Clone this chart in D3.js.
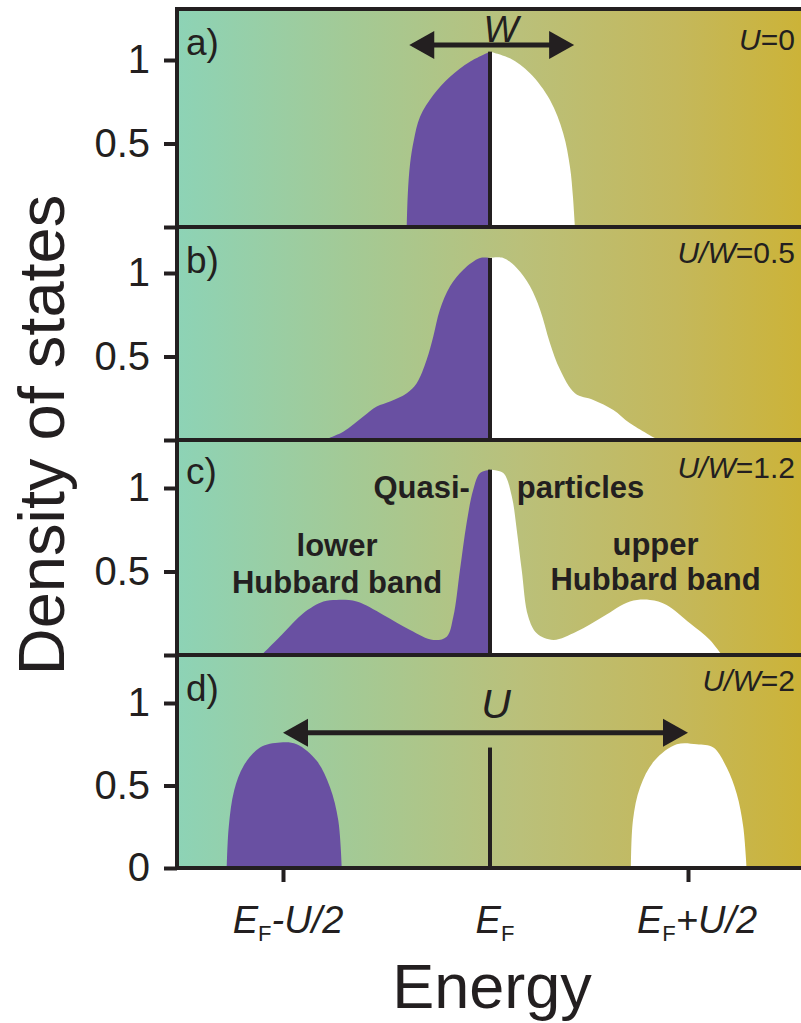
<!DOCTYPE html>
<html><head><meta charset="utf-8">
<script src="https://cdn.jsdelivr.net/npm/d3@7"></script>
<style>
body{margin:0;background:#fff}
svg{display:block}
text{font-family:"Liberation Sans",Arial,Helvetica,sans-serif;fill:#231f20}
</style>
</head><body>
<svg id="chart" width="801" height="1023"></svg>
<script>
// ---------------- DATA ----------------
const panelLetters = ["a)", "b)", "c)", "d)"];
const panelTitles = [
  [["U", true], ["=0", false]],
  [["U/W", true], ["=0.5", false]],
  [["U/W", true], ["=1.2", false]],
  [["U/W", true], ["=2", false]]
];
const yTickValues = [0, 0.5, 1];
const xTickValues = [-1, 1];
const xTickLabels = [
  [["E", "i"], ["F", "s"], ["-U/2", "i"]],
  [["E", "i"], ["F", "s"], ["+U/2", "i"]]
];
const efLabel = [["E", "i"], ["F", "s"]];

// energy (E - E_F, units of U/2 for U/W=2), density of states
const dosA_occupied = [[-0.402,0],[-0.397,0.20],[-0.386,0.38],[-0.368,0.52],[-0.338,0.66],[-0.274,0.79],[-0.193,0.90],[-0.097,0.99],[0,1.05]];
const dosA_empty    = [[0,1.05],[0.101,1.01],[0.202,0.92],[0.303,0.76],[0.370,0.56],[0.404,0.36],[0.419,0.18],[0.429,0]];

const dosB_occupied = [[-0.805,0],[-0.709,0.05],[-0.612,0.14],[-0.547,0.20],[-0.483,0.23],[-0.402,0.28],[-0.354,0.34],[-0.306,0.48],[-0.274,0.62],[-0.242,0.78],[-0.193,0.92],[-0.129,1.02],[-0.048,1.09],[0,1.09]];
const dosB_empty    = [[0,1.09],[0.067,1.09],[0.135,1.03],[0.202,0.92],[0.253,0.78],[0.303,0.58],[0.354,0.42],[0.429,0.28],[0.522,0.24],[0.623,0.18],[0.707,0.10],[0.850,0]];

const dosC_occupied = [[-1.103,0],[-0.999,0.13],[-0.902,0.25],[-0.805,0.32],[-0.741,0.33],[-0.644,0.32],[-0.515,0.24],[-0.386,0.15],[-0.274,0.09],[-0.209,0.11],[-0.177,0.23],[-0.145,0.51],[-0.113,0.79],[-0.081,0.99],[-0.048,1.09],[0,1.11]];
const dosC_empty    = [[0,1.11],[0.067,1.09],[0.110,0.95],[0.135,0.75],[0.160,0.51],[0.193,0.23],[0.236,0.13],[0.320,0.09],[0.438,0.14],[0.572,0.23],[0.707,0.32],[0.808,0.33],[0.892,0.30],[1.010,0.19],[1.111,0.09],[1.170,0]];

const dosD_occupied = [[-1.272,0],[-1.262,0.25],[-1.236,0.47],[-1.190,0.62],[-1.111,0.73],[-1.014,0.76],[-0.934,0.75],[-0.837,0.65],[-0.773,0.49],[-0.733,0.29],[-0.716,0]];
const dosD_empty    = [[0.712,0],[0.722,0.29],[0.758,0.49],[0.830,0.65],[0.943,0.75],[1.044,0.75],[1.128,0.73],[1.195,0.61],[1.246,0.45],[1.279,0.25],[1.296,0]];

const occupiedSeries = [dosA_occupied, dosB_occupied, dosC_occupied, dosD_occupied];
const emptySeries    = [dosA_empty, dosB_empty, dosC_empty, dosD_empty];
const efLineTop = [1.05, 1.09, 1.11, 0.73];

// arrows: [E start, E end, DOS level]
const wArrow = [-0.39, 0.425, 1.09];
const uArrow = [-1.0, 1.0, 0.82];

// ---------------- LAYOUT ----------------
const svg = d3.select("#chart");
const axisX = 177, rightX = 801, topY = 9;
const panelBottoms = [227, 440, 655, 868];
const panelTops = [topY, 227, 440, 655];
const pxPerUnit = [167, 167, 167, 165];
const ink = "#231f20";
const purple = "#6950a2";

const x = d3.scaleLinear().domain([-1, 0, 1]).range([283, 490, 688]);
const yScales = panelBottoms.map((b, i) => d3.scaleLinear().domain([0, 1]).range([b, b - pxPerUnit[i]]));

const defs = svg.append("defs");
const grad = defs.append("linearGradient").attr("id", "bg")
  .attr("gradientUnits", "userSpaceOnUse")
  .attr("x1", axisX).attr("x2", rightX).attr("y1", 0).attr("y2", 0);
[[0, "#8dd3b6"], [0.3, "#a5c993"], [0.55, "#bac07a"], [0.8, "#c4b85c"], [1, "#ccb338"]]
  .forEach(([o, c]) => grad.append("stop").attr("offset", o).attr("stop-color", c));

svg.append("rect").attr("x", axisX).attr("y", topY).attr("width", rightX - axisX)
  .attr("height", panelBottoms[3] - topY).attr("fill", "url(#bg)");

panelBottoms.forEach((b, i) => {
  const y = yScales[i];
  const area = d3.area().x(d => x(d[0])).y0(y(0)).y1(d => y(d[1]))
    .curve(d3.curveCatmullRom.alpha(0.5));
  const g = svg.append("g");
  g.append("path").datum(occupiedSeries[i]).attr("d", area).attr("fill", purple);
  g.append("path").datum(emptySeries[i]).attr("d", area).attr("fill", "#ffffff");
  g.append("line").attr("x1", x(0)).attr("x2", x(0))
    .attr("y1", y(0)).attr("y2", y(efLineTop[i]))
    .attr("stroke", ink).attr("stroke-width", 4);
});

svg.append("line").attr("x1", axisX - 2).attr("x2", rightX).attr("y1", topY).attr("y2", topY)
  .attr("stroke", ink).attr("stroke-width", 4);
panelBottoms.forEach(b => {
  svg.append("line").attr("x1", axisX).attr("x2", rightX).attr("y1", b).attr("y2", b)
    .attr("stroke", ink).attr("stroke-width", 4);
});
svg.append("line").attr("x1", axisX).attr("x2", axisX).attr("y1", topY - 2).attr("y2", panelBottoms[3] + 2)
  .attr("stroke", ink).attr("stroke-width", 4);

panelBottoms.forEach((b, i) => {
  const ax = d3.axisLeft(yScales[i]).tickValues(yTickValues).tickSize(13).tickPadding(14)
    .tickFormat(v => (v === 0 ? (i === 3 ? "0" : "") : (v === 0.5 ? "0.5" : "1")));
  const g = svg.append("g").attr("transform", `translate(${axisX},0)`).call(ax);
  g.select(".domain").remove();
  g.selectAll(".tick line").attr("stroke", ink).attr("stroke-width", 4);
  g.selectAll(".tick text").attr("font-size", 40).attr("fill", ink)
    .style("font-family", '"Liberation Sans",Arial,sans-serif');
});

const xa = d3.axisBottom(x).tickValues(xTickValues).tickSize(14).tickFormat("");
const xg = svg.append("g").attr("transform", `translate(0,${panelBottoms[3]})`).call(xa);
xg.select(".domain").remove();
xg.selectAll(".tick line").attr("stroke", ink).attr("stroke-width", 4);

function richText(sel, parts, fs) {
  let sub = false;
  parts.forEach(([t, s]) => {
    const ts = sel.append("tspan").text(t);
    if (s === "i") ts.attr("font-style", "italic");
    if (s === "s") { ts.attr("font-size", fs * 0.58).attr("dy", 8); sub = true; }
    else if (sub) { ts.attr("dy", -8); sub = false; }
  });
}

const xLabelDefs = [[-1, xTickLabels[0], 5], [0, efLabel, 5], [1, xTickLabels[1], 9]];
xLabelDefs.forEach(([v, parts, off]) => {
  const t = svg.append("text").attr("x", x(v) + off).attr("y", 933)
    .attr("text-anchor", "middle").attr("font-size", 38);
  richText(t, parts, 38);
});

svg.append("text").attr("x", x(0) + 2).attr("y", 1008).attr("text-anchor", "middle")
  .attr("font-size", 63).text("Energy");
svg.append("text").attr("transform", "translate(64,435) rotate(-90)")
  .attr("text-anchor", "middle").attr("font-size", 65).text("Density of states");

panelBottoms.forEach((b, i) => {
  svg.append("text").attr("x", 186).attr("y", panelTops[i] + 46 - (i === 2 ? 2 : 0))
    .attr("font-size", 37).text(panelLetters[i]);
  const t = svg.append("text").attr("x", 795).attr("y", b - 177)
    .attr("text-anchor", "end").attr("font-size", 30);
  panelTitles[i].forEach(([s, it]) => {
    const ts = t.append("tspan").text(s);
    if (it) ts.attr("font-style", "italic");
  });
});

function arrow(x1, x2, yy) {
  svg.append("line").attr("x1", x1 + 20).attr("x2", x2 - 20).attr("y1", yy).attr("y2", yy)
    .attr("stroke", ink).attr("stroke-width", 5);
  const hl = 25, hh = 14;
  svg.append("path").attr("d", `M${x1},${yy}L${x1 + hl},${yy - hh}L${x1 + hl},${yy + hh}Z`).attr("fill", ink);
  svg.append("path").attr("d", `M${x2},${yy}L${x2 - hl},${yy - hh}L${x2 - hl},${yy + hh}Z`).attr("fill", ink);
}
arrow(x(wArrow[0]), x(wArrow[1]), yScales[0](wArrow[2]));
svg.append("text").attr("x", x(0) + 11).attr("y", 42).attr("text-anchor", "middle")
  .attr("font-size", 37).attr("font-style", "italic").text("W");

arrow(x(uArrow[0]), x(uArrow[1]), yScales[3](uArrow[2]));
svg.append("text").attr("x", x(0) + 6).attr("y", 718).attr("text-anchor", "middle")
  .attr("font-size", 41).attr("font-style", "italic").text("U");

const yc = yScales[2];
const bold = (xx, yy, anchor, txt) => svg.append("text").attr("x", xx).attr("y", yy)
  .attr("text-anchor", anchor).attr("font-size", 31).attr("font-weight", "bold").text(txt);
bold(x(-0.097), yc(0.94), "end", "Quasi-");
bold(x(0.135), yc(0.94), "start", "particles");
bold(x(-0.739), yc(0.59), "middle", "lower");
bold(x(-0.739), yc(0.37), "middle", "Hubbard band");
bold(x(0.836), yc(0.60), "middle", "upper");
bold(x(0.836), yc(0.39), "middle", "Hubbard band");
</script>
</body></html>
